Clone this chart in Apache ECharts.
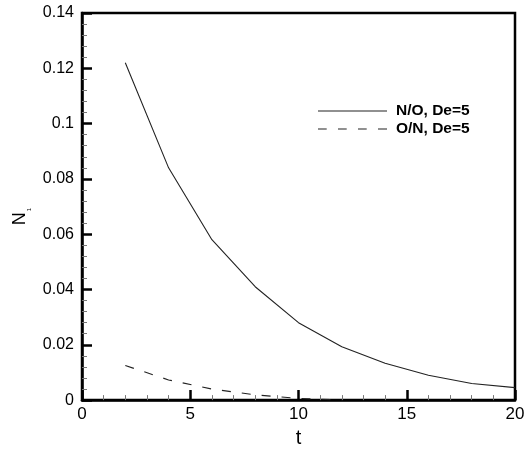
<!DOCTYPE html>
<html>
<head>
<meta charset="utf-8">
<script src="https://cdn.jsdelivr.net/npm/echarts@6/dist/echarts.min.js"></script>
<style>html,body{margin:0;padding:0;background:#fff}#c{width:528px;height:453px}</style>
</head>
<body>
<div id="c"></div>
<script>
var seriesNames = ['N/O, De=5', 'O/N, De=5'];
var tNO = [2, 4, 6, 8, 10, 12, 14, 16, 18, 20];
var valNO = [0.122, 0.084, 0.058, 0.041, 0.028, 0.0193, 0.0133, 0.009, 0.006, 0.0045];
var tON = [2, 4, 6, 8, 10, 12];
var valON = [0.0125, 0.0073, 0.004, 0.0019, 0.0006, 0.0];
var xTicks = [0, 5, 10, 15, 20];
var yTicks = [0, 0.02, 0.04, 0.06, 0.08, 0.1, 0.12, 0.14];

function pairs(xs, ys) { return xs.map(function (x, i) { return [x, ys[i]]; }); }

var FONT = 'Liberation Sans';
var solidIcon = 'path://M0,0H69V1H0Z';
var dashIcon = 'path://M0,0H8.7V1H0Z M20,0H28.7V1H20Z M40,0H48.7V1H40Z M60,0H69V1H60Z';

var chart = echarts.init(document.getElementById('c'), null, { renderer: 'canvas' });
chart.setOption({
  animation: false,
  backgroundColor: '#fff',
  textStyle: { fontFamily: FONT },
  grid: { left: 82, right: 13, top: 13, bottom: 45, show: true, borderColor: '#000', borderWidth: 2.5, backgroundColor: 'transparent' },
  legend: {
    data: [{ name: seriesNames[0], icon: solidIcon }, { name: seriesNames[1], icon: dashIcon }],
    orient: 'vertical',
    left: 313,
    top: 97,
    itemWidth: 69,
    itemHeight: 1.1,
    itemGap: 0,
    symbolKeepAspect: false,
    textStyle: { fontFamily: FONT, fontSize: 15.5, fontWeight: 'bold', color: '#000', lineHeight: 18, padding: [0, 0, 0, 4] }
  },
  xAxis: {
    type: 'value',
    min: xTicks[0],
    max: xTicks[xTicks.length - 1],
    interval: xTicks[1] - xTicks[0],
    name: 't',
    nameLocation: 'middle',
    nameGap: 22,
    nameTextStyle: { fontFamily: FONT, fontSize: 20, color: '#000' },
    axisLine: { show: true, lineStyle: { color: '#000', width: 2.5 } },
    axisTick: { show: true, inside: true, length: 10, lineStyle: { color: '#000', width: 2.5 } },
    minorTick: { show: true, splitNumber: 5, length: 5, lineStyle: { color: '#777', width: 1 } },
    axisLabel: { fontFamily: FONT, fontSize: 17, color: '#000', margin: 6 },
    splitLine: { show: false }
  },
  yAxis: {
    type: 'value',
    min: yTicks[0],
    max: yTicks[yTicks.length - 1],
    interval: yTicks[1] - yTicks[0],
    name: '{a|N}{b|1}',
    nameLocation: 'middle',
    nameRotate: 90,
    nameGap: 43,
    nameTextStyle: {
      fontFamily: FONT, color: '#000', padding: [0, 20, 0, 0],
      rich: {
        a: { fontFamily: FONT, fontSize: 18, color: '#000', lineHeight: 24, verticalAlign: 'middle' },
        b: { fontFamily: FONT, fontSize: 6, color: '#000', lineHeight: 24, verticalAlign: 'bottom', padding: [0, 0, 0, 1] }
      }
    },
    axisLine: { show: true, lineStyle: { color: '#000', width: 2.5 } },
    axisTick: { show: true, inside: true, length: 10, lineStyle: { color: '#000', width: 2.5 } },
    minorTick: { show: true, splitNumber: 5, length: 5, lineStyle: { color: '#777', width: 1 } },
    axisLabel: { fontFamily: FONT, fontSize: 16, color: '#000', margin: 8 },
    splitLine: { show: false }
  },
  series: [
    {
      name: seriesNames[0], type: 'line', data: pairs(tNO, valNO),
      symbol: 'none', showSymbol: false, smooth: false,
      lineStyle: { color: '#222', width: 1.1, type: 'solid' },
      itemStyle: { color: '#222' }
    },
    {
      name: seriesNames[1], type: 'line', data: pairs(tON, valON),
      symbol: 'none', showSymbol: false, smooth: false,
      lineStyle: { color: '#222', width: 1.1, type: [9, 11] },
      itemStyle: { color: '#222' }
    }
  ]
});
</script>
</body>
</html>
